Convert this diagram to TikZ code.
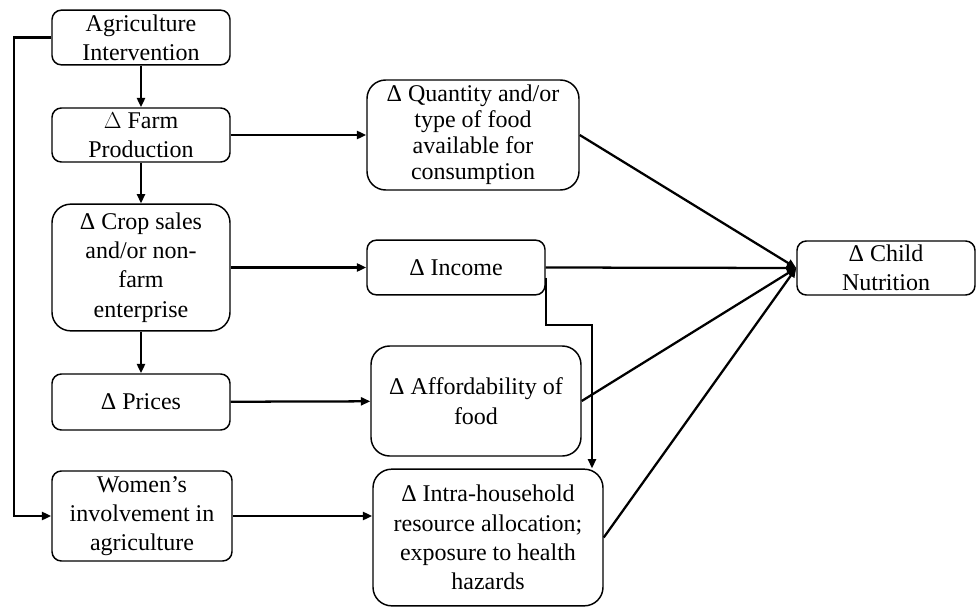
\documentclass[tikz,border=0pt]{standalone}
\usepackage{fontspec}
\setmainfont{Liberation Serif}
\usepackage{tikz}
\usetikzlibrary{calc,arrows.meta,positioning}
\tikzset{
  ar/.style={-{Triangle[length=7pt,width=6pt]},line width=1.7pt},
  bx/.style={draw,line width=1.1pt,rounded corners=7pt,align=center,inner sep=0pt,font=\fontsize{18}{22}\selectfont},
  bigbx/.style={bx,rounded corners=14pt}
}
\begin{document}
\begin{tikzpicture}[x=0.75pt,y=-0.75pt]
\useasboundingbox (0,0) rectangle (976,607);
\node[bx,minimum width=133.5pt,minimum height=41pt] (agint) at (141,37.5) {Agriculture\\Intervention};
\node[bx,minimum width=133.5pt,minimum height=40.5pt] (farm) at (141,135) {$\Delta$ Farm\\Production};
\node[bigbx,minimum width=133.5pt,minimum height=95pt] (crop) at (141,267.5) {Δ Crop sales\\and/or non-\\farm\\enterprise};
\node[bx,minimum width=133.5pt,minimum height=42pt] (prices) at (141,402) {Δ Prices};
\node[bx,minimum width=135pt,minimum height=67.5pt] (women) at (142,516) {Women’s\\involvement in\\agriculture};
\node[bigbx,minimum width=159pt,minimum height=82.5pt,font=\fontsize{18}{19.5}\selectfont] (quant) at (473,135) {Δ Quantity and/or\\type of food\\available for\\consumption};
\node[bx,minimum width=133.5pt,minimum height=41pt] (income) at (456,267.5) {Δ Income};
\node[bigbx,minimum width=157.5pt,minimum height=82.5pt] (afford) at (476,401) {Δ Affordability of\\food};
\node[bigbx,minimum width=172.5pt,minimum height=102.5pt] (intra) at (488,537.5) {Δ Intra-household\\resource allocation;\\exposure to health\\hazards};
\node[bx,minimum width=133.5pt,minimum height=40.5pt] (child) at (886,268) {Δ Child\\Nutrition};
% left column
\draw[ar] (agint)--(farm);
\draw[ar] (farm)--(crop);
\draw[ar] (crop)--(prices);
\draw[ar] (agint.west)--++(-37,0) |- (women.west);
% middle column
\draw[ar] (farm)--(quant);
\draw[ar] (crop.east|-income)--(income);
\draw[ar] (prices)--(afford);
\draw[ar] (women.east)--(intra.west|-women.east);
\coordinate (turn) at (592,325);
\draw[ar] ([yshift=-7.5pt]income.east) |- (turn)--(turn|-intra.north);
% into child nutrition
\draw[ar] (quant.east)--(child.west);
\draw[ar] (income.east)--(child.west);
\draw[ar] (afford.east)--(child.west);
\draw[ar] (intra.east)--(child.west);
\end{tikzpicture}
\end{document}
